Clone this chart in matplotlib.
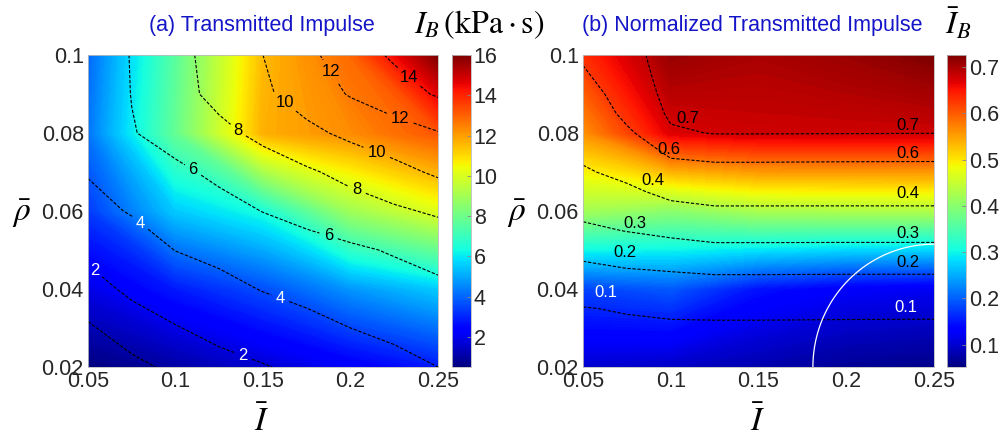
import matplotlib
matplotlib.use("Agg")
import matplotlib.pyplot as plt
import numpy as np

plt.rcParams['font.family'] = ['Liberation Sans', 'DejaVu Sans']
plt.rcParams['mathtext.fontset'] = 'stix'

# ---- (a) transmitted impulse I_B (kPa*s) ----
# contour field
imp_a = [0.05, 0.075, 0.1, 0.125, 0.15, 0.175, 0.2, 0.225, 0.25]
rho_a = [0.02, 0.03, 0.04, 0.05, 0.06, 0.07, 0.08, 0.09, 0.1]
IB = [
    [0.5, 0.8, 1.17, 1.53, 1.9, 2.39, 2.92, 3.46, 4.0],
    [0.9, 1.4, 1.92, 2.44, 2.97, 3.5, 4.0, 4.4, 4.8],
    [1.52, 2.25, 2.88, 3.5, 4.08, 4.48, 4.88, 5.28, 5.68],
    [2.3, 3.2, 4.03, 4.46, 4.88, 5.31, 5.73, 6.15, 6.58],
    [3.5, 4.12, 4.76, 5.41, 6.04, 6.6, 7.16, 7.71, 8.27],
    [4.1, 4.9, 5.65, 6.38, 7.07, 7.75, 8.55, 9.41, 10.3],
    [4.3, 5.9, 6.7, 7.53, 8.47, 9.53, 10.45, 11.2, 11.9],
    [4.4, 6.05, 7.33, 8.55, 9.68, 10.9, 12.15, 13.1, 14.2],
    [4.5, 6.1, 7.42, 8.74, 10.0, 11.58, 12.97, 14.3, 16.0],
]
# colour field (coarse grid)
imp_sa = [0.05, 0.1, 0.15, 0.2, 0.25]
rho_sa = [0.02, 0.04, 0.06, 0.08, 0.1]
IB_shade = [
    [0.5, 1.0, 1.6, 2.2, 2.8],
    [1.9, 2.8, 3.6, 4.7, 5.5],
    [3.3, 5.5, 6.4, 8.9, 10.1],
    [4.2, 7.8, 11.7, 12.3, 13.2],
    [4.0, 7.6, 11.5, 12.9, 16.0],
]
range_a = (0.5, 16.0)
plain_levels_a = [1]
levels_a = [2, 4, 6, 8, 10, 12, 14]
labels_a = [(0.0588, 0.0474), (0.141, 0.0256), (0.0816, 0.0577), (0.160, 0.0377),
            (0.110, 0.0705), (0.1885, 0.0551), (0.136, 0.0808), (0.204, 0.0659),
            (0.1656, 0.0897), (0.215, 0.0751), (0.193, 0.0969), (0.230, 0.0859),
            (0.238, 0.0967)]

# ---- (b) normalized transmitted impulse ----
imp_b = [0.05, 0.075, 0.1, 0.125, 0.15, 0.2, 0.25]
rho_b = [0.02, 0.025, 0.03, 0.035, 0.04, 0.045, 0.05, 0.055, 0.06,
         0.065, 0.07, 0.075, 0.08, 0.085, 0.09, 0.095, 0.1]
IBn = [
    [0.065, 0.062, 0.060, 0.056, 0.055, 0.054, 0.052],
    [0.075, 0.072, 0.071, 0.070, 0.070, 0.068, 0.067],
    [0.085, 0.086, 0.088, 0.088, 0.088, 0.087, 0.086],
    [0.097, 0.106, 0.115, 0.118, 0.118, 0.117, 0.117],
    [0.134, 0.151, 0.160, 0.164, 0.164, 0.163, 0.163],
    [0.179, 0.197, 0.205, 0.213, 0.213, 0.212, 0.212],
    [0.229, 0.250, 0.267, 0.280, 0.280, 0.279, 0.279],
    [0.282, 0.303, 0.320, 0.333, 0.333, 0.333, 0.333],
    [0.322, 0.340, 0.366, 0.380, 0.380, 0.380, 0.380],
    [0.354, 0.378, 0.430, 0.457, 0.457, 0.456, 0.456],
    [0.387, 0.430, 0.540, 0.560, 0.560, 0.558, 0.557],
    [0.424, 0.500, 0.625, 0.640, 0.640, 0.638, 0.637],
    [0.465, 0.580, 0.690, 0.703, 0.703, 0.702, 0.701],
    [0.506, 0.630, 0.712, 0.714, 0.712, 0.711, 0.710],
    [0.546, 0.655, 0.720, 0.722, 0.718, 0.716, 0.715],
    [0.587, 0.670, 0.724, 0.726, 0.722, 0.720, 0.719],
    [0.615, 0.680, 0.726, 0.726, 0.725, 0.722, 0.721],
]
imp_sb = [0.05, 0.1, 0.15, 0.2, 0.25]
rho_sb = [0.02, 0.04, 0.06, 0.08, 0.1]
IBn_shade = [
    [0.100, 0.093, 0.079, 0.065, 0.058],
    [0.180, 0.194, 0.146, 0.126, 0.120],
    [0.420, 0.400, 0.425, 0.428, 0.430],
    [0.560, 0.670, 0.680, 0.680, 0.680],
    [0.632, 0.712, 0.700, 0.710, 0.726],
]
range_b = (0.052, 0.726)
plain_levels_b = []
levels_b = [0.1, 0.2, 0.3, 0.4, 0.6, 0.7]
labels_b = [(0.0633, 0.0391), (0.234, 0.0353), (0.0737, 0.0494), (0.235, 0.0468),
            (0.0795, 0.0569), (0.235, 0.0543), (0.0899, 0.0678), (0.235, 0.0644),
            (0.099, 0.0758), (0.235, 0.0747), (0.1098, 0.0837), (0.235, 0.082)]

# white boundary arc (quarter ellipse at lower right corner)
arc_center = (0.25, 0.02)
arc_radii = (0.069, 0.0315)

x_ticks = [0.05, 0.1, 0.15, 0.2, 0.25]
y_ticks = [0.02, 0.04, 0.06, 0.08, 0.1]
tick_color = '#262626'

fig = plt.figure(figsize=(10.04, 4.38), dpi=100)
ax1 = fig.add_axes([88/1004, 71/438, 350/1004, 312/438])
cax1 = fig.add_axes([452/1004, 71/438, 19/1004, 312/438])
ax2 = fig.add_axes([583/1004, 71/438, 351/1004, 312/438])
cax2 = fig.add_axes([947/1004, 71/438, 19/1004, 312/438])

line_kw = dict(colors='black', linewidths=0.8, linestyles=[(0, (3, 1.5))])


def draw_panel(ax, cax, sx, sy, shade, vrange, xs, ys, z, plain_levels, levels,
               label_pos, white_max, cb_ticks, inline):
    fill_levels = np.linspace(vrange[0], vrange[1], 200)
    cf = ax.contourf(sx, sy, np.array(shade), levels=fill_levels, cmap='jet',
                     vmin=vrange[0], vmax=vrange[1], extend='both')
    cf.set_edgecolor('face')
    cf.set_linewidth(0.4)
    z = np.array(z)
    if plain_levels:
        ax.contour(xs, ys, z, levels=plain_levels, **line_kw)
    cs = ax.contour(xs, ys, z, levels=levels, **line_kw)
    texts = ax.clabel(cs, inline=inline, fontsize=12, manual=label_pos,
                      fmt=lambda v: f'{v:g}')
    for t, pos in zip(texts, label_pos):
        t.set_rotation(0)
        if not inline:
            t.set_position(pos)
        if float(t.get_text()) <= white_max:
            t.set_color('white')
    ax.set_xlim(xs[0], xs[-1])
    ax.set_ylim(ys[0], ys[-1])
    ax.set_xticks(x_ticks)
    ax.set_xticklabels([f'{v:g}' for v in x_ticks])
    ax.set_yticks(y_ticks)
    ax.set_yticklabels([f'{v:g}' for v in y_ticks])
    ax.tick_params(length=0, labelsize=15.5, colors=tick_color, pad=3)
    for s in ax.spines.values():
        s.set_color('#bbbbbb')
        s.set_linewidth(0.6)
        s.set_zorder(5)
    ax.set_xlabel(r'$\bar{I}$', fontsize=24, va='center')
    ax.set_ylabel(r'$\bar{\rho}$', fontsize=24, rotation=0, ha='center', va='center')
    ax.xaxis.set_label_coords(0.497, -0.175)
    ax.yaxis.set_label_coords(-0.19, 0.49)

    sm = plt.cm.ScalarMappable(cmap='jet', norm=plt.Normalize(*vrange))
    cb = fig.colorbar(sm, cax=cax)
    cb.set_ticks(cb_ticks)
    cb.set_ticklabels([f'{v:g}' for v in cb_ticks])
    cb.ax.tick_params(direction='in', length=3, width=0.6, labelsize=15.5,
                      colors=tick_color, pad=2)
    cb.ax.tick_params(axis='y', color='#888888')
    cb.outline.set_edgecolor('#bbbbbb')
    cb.outline.set_linewidth(0.6)
    return ax


draw_panel(ax1, cax1, imp_sa, rho_sa, IB_shade, range_a, imp_a, rho_a, IB,
           plain_levels_a, levels_a, labels_a, 4,
           [2, 4, 6, 8, 10, 12, 14, 16], True)
draw_panel(ax2, cax2, imp_sb, rho_sb, IBn_shade, range_b, imp_b, rho_b, IBn,
           plain_levels_b, levels_b, labels_b, 0.1,
           [0.1, 0.2, 0.3, 0.4, 0.5, 0.6, 0.7], False)

theta = np.linspace(np.pi / 2, np.pi, 100)
ax2.plot(arc_center[0] + arc_radii[0] * np.cos(theta),
         arc_center[1] + arc_radii[1] * np.sin(theta),
         color='white', lw=0.9)

fig.text(262/1004, 1 - 25/438, '(a) Transmitted Impulse', color='#1515c8',
         fontsize=15.5, ha='center', va='center')
fig.text(752/1004, 1 - 25/438, '(b) Normalized Transmitted Impulse', color='#1515c8',
         fontsize=15.5, ha='center', va='center')
fig.text(479/1004, 1 - 25/438, r'$I_B\,\left(\mathrm{kPa}\cdot\mathrm{s}\right)$',
         fontsize=23, ha='center', va='center')
fig.text(958/1004, 1 - 24/438, r'$\bar{I}_B$', fontsize=23, ha='center', va='center')

fig.savefig('out.png', dpi=100)
